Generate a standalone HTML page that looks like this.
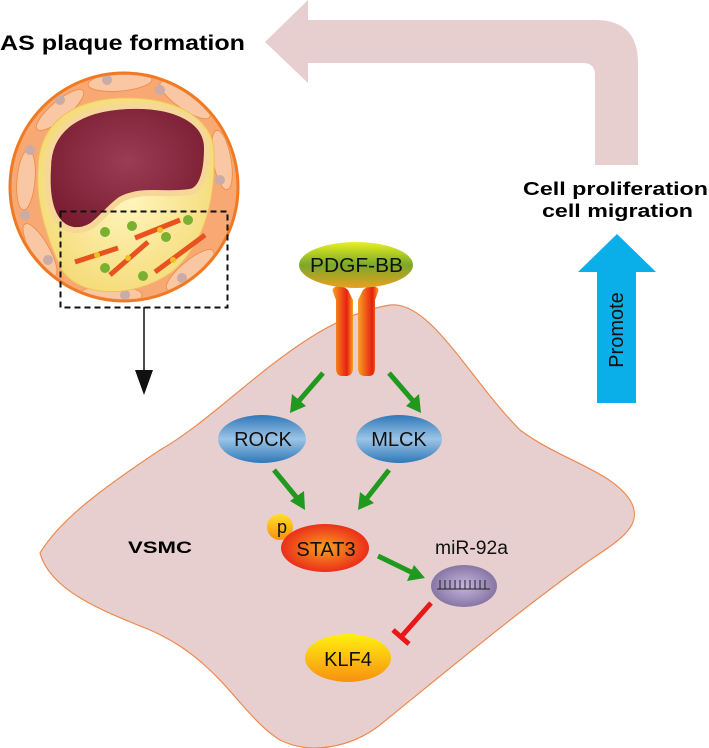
<!DOCTYPE html>
<html><head><meta charset="utf-8"><style>
html,body{margin:0;padding:0;background:#fff;}
svg{display:block;font-family:"Liberation Sans",Arial,sans-serif;}
</style></head><body>
<svg width="709" height="748" viewBox="0 0 709 748" xmlns="http://www.w3.org/2000/svg">
<defs>
<radialGradient id="lumen" cx="0.5" cy="0.45" r="0.6"><stop offset="0" stop-color="#9a3d55"/><stop offset="1" stop-color="#7a1c30"/></radialGradient>
<linearGradient id="pdgf" x1="0" y1="0" x2="0" y2="1"><stop offset="0" stop-color="#e8f020"/><stop offset="0.5" stop-color="#7aa82a"/><stop offset="1" stop-color="#e8a020"/></linearGradient>
<linearGradient id="blue" x1="0" y1="0" x2="0" y2="1"><stop offset="0" stop-color="#2e78b8"/><stop offset="0.5" stop-color="#9cc4e6"/><stop offset="1" stop-color="#2e78b8"/></linearGradient>
<radialGradient id="stat" cx="0.5" cy="0.5" r="0.6"><stop offset="0" stop-color="#f8a020"/><stop offset="1" stop-color="#e81818"/></radialGradient>
<linearGradient id="klf" x1="0" y1="0" x2="0" y2="1"><stop offset="0" stop-color="#fff010"/><stop offset="1" stop-color="#f89010"/></linearGradient>
<linearGradient id="pp" x1="0" y1="0" x2="0" y2="1"><stop offset="0" stop-color="#ffe020"/><stop offset="1" stop-color="#f89010"/></linearGradient>
<radialGradient id="mir" cx="0.5" cy="0.5" r="0.6"><stop offset="0" stop-color="#c8b4e0"/><stop offset="1" stop-color="#7a6a98"/></radialGradient>
<linearGradient id="rec" x1="0" y1="0" x2="1" y2="0"><stop offset="0" stop-color="#f8a020"/><stop offset="0.7" stop-color="#e82010"/><stop offset="1" stop-color="#f8a020"/></linearGradient>
<radialGradient id="plaque" cx="0.5" cy="0.5" r="0.6"><stop offset="0" stop-color="#fff6c0"/><stop offset="1" stop-color="#f4d870"/></radialGradient>
<clipPath id="circ"><circle cx="124" cy="187" r="112"/></clipPath>
</defs>

<path d="M265,42 L308,0 L308,20 L595,20 Q638,20 638,63 L638,165 L595,165 L595,75 Q595,63 583,63 L308,63 L308,83 Z" fill="#e8cfcf"/>

<text x="0" y="50" font-size="21" font-weight="bold" textLength="245" lengthAdjust="spacingAndGlyphs">AS plaque formation</text>

<circle cx="124" cy="187" r="114" fill="#f7a873" stroke="#f07a24" stroke-width="3"/>
<g clip-path="url(#circ)">
<g fill="#f9c7a4" stroke="#ef8a40" stroke-width="0.8">
<ellipse cx="60" cy="110" rx="30" ry="9" transform="rotate(-40 60 110)"/>
<ellipse cx="120" cy="82" rx="32" ry="9" transform="rotate(-5 120 82)"/>
<ellipse cx="185" cy="100" rx="30" ry="9" transform="rotate(35 185 100)"/>
<ellipse cx="222" cy="160" rx="30" ry="9" transform="rotate(80 222 160)"/>
<ellipse cx="26" cy="180" rx="30" ry="9" transform="rotate(95 26 180)"/>
<ellipse cx="40" cy="250" rx="30" ry="9" transform="rotate(60 40 250)"/>
<ellipse cx="110" cy="295" rx="32" ry="9" transform="rotate(0 110 295)"/>
<ellipse cx="190" cy="270" rx="30" ry="9" transform="rotate(-40 190 270)"/>
</g>
<g fill="#c9aba8"><circle cx="107" cy="80" r="5"/><circle cx="160" cy="90" r="5"/><circle cx="205" cy="135" r="5"/><circle cx="220" cy="180" r="5"/><circle cx="30" cy="150" r="5"/><circle cx="25" cy="215" r="5"/><circle cx="48" cy="260" r="5"/><circle cx="125" cy="295" r="5"/><circle cx="182" cy="278" r="5"/><circle cx="60" cy="100" r="5"/></g>
<path d="M38,170 C38,125 70,100 120,98 C175,96 212,118 214,150 C216,200 204,245 172,272 C130,302 70,297 58,262 C44,230 36,200 38,170 Z" fill="url(#plaque)" stroke="#f0c060" stroke-width="1"/>
<path d="M48,168 C48,128 80,108 128,106 C178,104 207,122 207,148 C207,172 202,190 190,192 C165,196 140,188 120,200 C100,215 95,232 73,230 C52,226 46,200 48,168 Z" fill="url(#lumen)" stroke="#f5d898" stroke-width="6"/>
<g><path d="M75,262 L118,248" stroke="#e8521e" stroke-width="5"/><path d="M110,275 L148,242" stroke="#e8521e" stroke-width="5"/><path d="M135,238 L180,220" stroke="#e8521e" stroke-width="5"/><path d="M155,272 L205,235" stroke="#e8521e" stroke-width="5"/></g>
<g fill="#f0c020"><circle cx="97" cy="255" r="3"/><circle cx="128" cy="258" r="3"/><circle cx="160" cy="230" r="3"/><circle cx="173" cy="260" r="3"/></g>
<g fill="#7ab030"><circle cx="105" cy="232" r="5"/><circle cx="132" cy="226" r="5"/><circle cx="188" cy="220" r="5"/><circle cx="166" cy="237" r="5"/><circle cx="105" cy="268" r="5"/><circle cx="143" cy="276" r="5"/></g>
</g>
<rect x="60.5" y="211.5" width="167" height="96" fill="none" stroke="#111" stroke-width="2" stroke-dasharray="6,4"/>
<line x1="144" y1="307" x2="144" y2="372" stroke="#111" stroke-width="1.5"/>
<path d="M135,370 L153,370 L144,395 Z" fill="#111"/>

<path d="M40,553 C60,520 100,490 160,450 C230,410 300,320 390,305 C430,300 470,380 520,430 C560,460 610,470 630,500 C645,525 620,540 590,560 C520,610 460,660 380,725 C350,748 310,755 280,740 C240,715 220,660 150,630 C100,610 50,590 40,553 Z" fill="#e8cfcf" stroke="#ec8a50" stroke-width="1.2"/>

<text x="128" y="553" font-size="17" font-weight="bold" textLength="64" lengthAdjust="spacingAndGlyphs">VSMC</text>

<path d="M333,292 C330,286 342,284 348,290 L353,300 L353,368 Q353,376 346,376 L342,376 Q336,376 336,368 L336,300 Z" fill="url(#rec)"/>
<path d="M378,292 C381,286 369,284 363,290 L358,300 L358,368 Q358,376 365,376 L369,376 Q375,376 375,368 L375,300 Z" fill="url(#rec)"/>

<ellipse cx="356" cy="265" rx="57" ry="23" fill="url(#pdgf)"/>
<text x="310" y="272" font-size="20" textLength="93" lengthAdjust="spacingAndGlyphs" fill="#111">PDGF-BB</text>

<path d="M617,234 L656,272 L636,272 L636,403 L597,403 L597,272 L578,272 Z" fill="#0aaee8"/>
<text transform="translate(623,330) rotate(-90)" font-size="20" text-anchor="middle" fill="#111">Promote</text>

<text x="523" y="195" font-size="18" font-weight="bold" textLength="185" lengthAdjust="spacingAndGlyphs">Cell proliferation</text>
<text x="542" y="217" font-size="18" font-weight="bold" textLength="151" lengthAdjust="spacingAndGlyphs">cell migration</text>

<g stroke="#1f9a1f" stroke-width="5" fill="none">
<line x1="323" y1="373" x2="298" y2="402"/>
<line x1="389" y1="373" x2="414" y2="402"/>
<line x1="274" y1="470" x2="297" y2="498"/>
<line x1="389" y1="470" x2="367" y2="498"/>
<line x1="378" y1="556" x2="413" y2="573"/>
</g>
<g fill="#1f9a1f">
<path d="M290,413 L292,394 L306,406 Z"/>
<path d="M421,413 L406,406 L419,394 Z"/>
<path d="M305,510 L290,501 L304,491 Z"/>
<path d="M358,510 L360,492 L374,503 Z"/>
<path d="M425,578 L407,581 L414,565 Z"/>
</g>

<ellipse cx="262" cy="439" rx="44" ry="24" fill="url(#blue)"/>
<text x="263" y="446" font-size="20" text-anchor="middle" fill="#111">ROCK</text>
<ellipse cx="399" cy="439" rx="43" ry="24" fill="url(#blue)"/>
<text x="399" y="446" font-size="20" text-anchor="middle" fill="#111">MLCK</text>

<circle cx="280" cy="527" r="13" fill="url(#pp)"/>
<ellipse cx="325" cy="548" rx="44" ry="24" fill="url(#stat)"/>
<text x="282" y="533" font-size="18" text-anchor="middle" fill="#111">p</text>
<text x="326" y="556" font-size="20" text-anchor="middle" fill="#111">STAT3</text>

<text x="435" y="554" font-size="19" textLength="73" lengthAdjust="spacingAndGlyphs" fill="#111">miR-92a</text>
<ellipse cx="464" cy="586" rx="33" ry="21" fill="url(#mir)"/>
<g stroke="#222" stroke-width="1"><line x1="437" y1="589" x2="490" y2="589"/>
<line x1="440" y1="580" x2="440" y2="589"/><line x1="445" y1="580" x2="445" y2="589"/><line x1="450" y1="580" x2="450" y2="589"/><line x1="455" y1="580" x2="455" y2="589"/><line x1="460" y1="580" x2="460" y2="589"/><line x1="465" y1="580" x2="465" y2="589"/><line x1="470" y1="580" x2="470" y2="589"/><line x1="475" y1="580" x2="475" y2="589"/><line x1="480" y1="580" x2="480" y2="589"/><line x1="485" y1="580" x2="485" y2="589"/></g>

<g stroke="#e81818" stroke-width="5"><line x1="431" y1="603" x2="401" y2="637"/><line x1="393" y1="630" x2="409" y2="644"/></g>

<ellipse cx="348" cy="658" rx="43" ry="24" fill="url(#klf)"/>
<text x="348" y="666" font-size="20" text-anchor="middle" fill="#111">KLF4</text>
</svg>
</body></html>
